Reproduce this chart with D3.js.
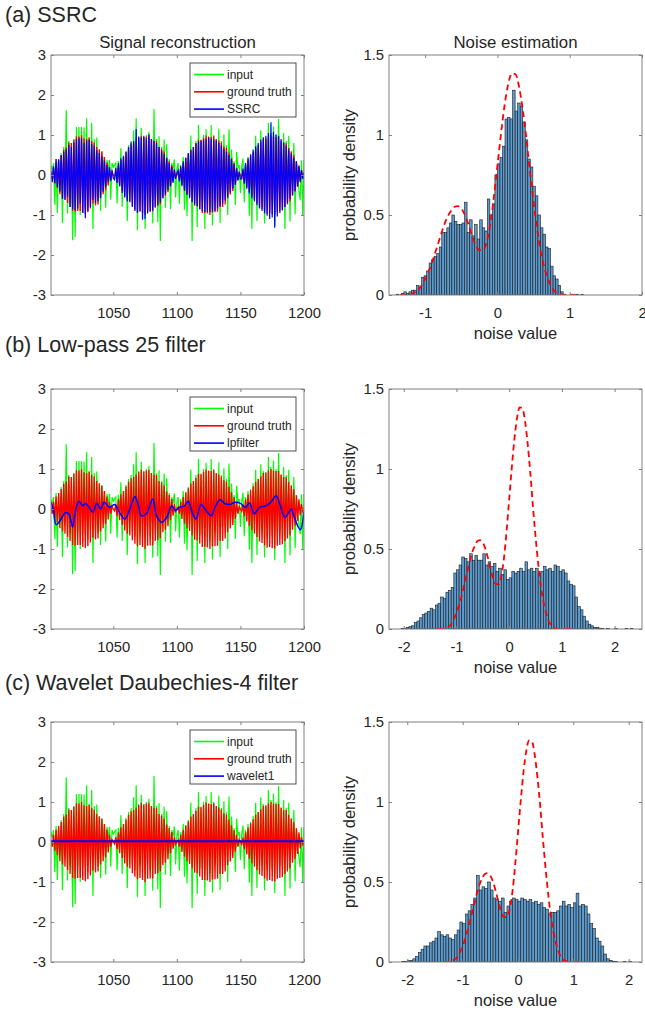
<!DOCTYPE html>
<html>
<head>
<meta charset="utf-8">
<script src="https://cdn.jsdelivr.net/npm/d3@7"></script>
<style>
  body { margin: 0; background: #fff; }
  text { font-family: "Liberation Sans", Arial, Helvetica, sans-serif; fill: #262626; }
</style>
</head>
<body>
<svg id="fig" width="645" height="1015"></svg>
<script>
// ---- dados ----
const firstSample = 1001, lastSample = 1200;

const groundTruth = [
  0.06,-0.12,0.18,-0.22,0.31,-0.33,0.40,-0.48,0.50,-0.56, 0.64,-0.62,0.69,-0.70,0.81,-0.80,0.80,-0.90,0.88,-0.92,
  0.97,-0.90,0.96,-0.90,1.00,-0.95,0.92,-0.98,0.90,-0.93, 0.93,-0.84,0.85,-0.72,0.81,-0.76,0.70,-0.74,0.64,-0.56,
  0.58,-0.48,0.45,-0.38,0.31,-0.26,0.18,-0.12,0.06,0.00,
  -0.05,0.12,-0.18,0.24,-0.28,0.37,-0.40,0.45,-0.54,0.56, -0.62,0.68,-0.66,0.77,-0.78,0.80,-0.87,0.86,-0.93,0.92,
  -0.90,0.98,-0.95,0.94,-1.00,0.96,-0.92,0.98,-0.91,0.90, -0.91,0.86,-0.80,0.85,-0.78,0.70,-0.73,0.66,-0.58,0.59,
  -0.52,0.44,-0.43,0.35,-0.28,0.25,-0.17,0.12,-0.06,0.00,
  0.05,-0.12,0.18,-0.25,0.30,-0.37,0.42,-0.48,0.52,-0.55, 0.64,-0.66,0.70,-0.77,0.78,-0.78,0.88,-0.86,0.88,-0.95,
  0.93,-0.95,0.99,-0.96,0.96,-1.00,0.95,-0.94,0.97,-0.93, 0.90,-0.92,0.86,-0.80,0.81,-0.80,0.72,-0.74,0.69,-0.58,
  0.56,-0.49,0.42,-0.40,0.30,-0.24,0.18,-0.12,0.06,0.00,
  -0.06,0.11,-0.18,0.24,-0.31,0.36,-0.42,0.47,-0.53,0.57, -0.62,0.68,-0.70,0.75,-0.81,0.82,-0.85,0.90,-0.91,0.92,
  -0.97,0.96,-0.95,1.00,-0.98,0.96,-0.99,0.95,-0.92,0.95, -0.90,0.86,-0.88,0.80,-0.80,0.80,-0.74,0.68,-0.66,0.58,
  -0.52,0.50,-0.42,0.34,-0.30,0.24,-0.16,0.12,-0.06,0.00
];

const inputSignal = [
  0.24,0.10,0.30,-0.75,0.40,-0.95,0.35,-0.28,0.55,-1.20, 0.70,-0.30,1.62,-0.96,0.85,-0.60,0.80,-1.63,0.90,-1.55,
  1.20,-0.59,1.20,-1.00,1.20,-0.60,1.19,-0.83,1.42,-0.75, 0.95,-0.49,1.30,-1.35,0.90,-0.56,0.94,-0.60,0.65,-0.90,
  0.60,-0.08,0.45,-0.82,0.38,0.08,0.38,-0.62,0.30,0.20,
  0.25,0.30,-0.71,0.35,-0.07,0.67,-0.80,0.45,-0.34,0.60, -1.15,0.75,-0.28,0.85,-0.58,1.12,-0.70,1.42,-1.38,0.95,
  -0.60,1.18,-0.70,0.95,-1.35,1.00,-0.54,1.08,-0.71,0.90, -1.21,1.65,-0.47,0.90,-1.18,0.97,-1.65,0.70,-0.25,0.89,
  -0.82,0.77,-0.23,0.40,-0.85,0.30,0.13,0.39,-0.56,0.15,
  0.30,-0.72,0.25,-0.05,0.45,-0.87,0.40,-1.03,0.55,-0.32, 0.99,-1.65,0.70,-0.52,0.85,-1.30,1.25,-0.66,0.85,-0.65,
  1.00,-1.35,1.15,-0.71,0.95,-0.80,1.25,-1.26,1.00,-0.58, 0.90,-0.72,1.16,-1.20,0.85,-0.50,1.02,-0.49,0.75,-1.00,
  1.14,-0.19,0.64,-0.20,0.35,-0.75,0.58,0.18,0.25,-0.45,
  0.19,0.41,-0.68,0.30,-0.01,0.45,-1.02,0.50,-1.35,0.65, -0.30,0.98,-1.15,0.75,-0.61,1.12,-0.47,0.95,-1.21,0.90,
  -0.72,1.30,-0.66,1.05,-0.68,1.21,-1.28,1.00,-0.58,1.40, -0.60,0.85,-0.68,1.05,-1.35,0.85,-0.40,0.98,-1.16,0.60,
  -0.24,0.80,-0.98,0.35,-0.10,-0.38,-0.63,0.37,-1.00,0.38
];

const ssrcSignal = [
  0.10,-0.18,0.22,-0.20,0.40,-0.30,0.38,-0.42,0.50,-0.60, 0.58,-0.62,0.64,-0.55,0.75,-0.80,0.70,-0.85,0.82,-0.88,
  0.90,-0.84,0.92,-0.72,0.92,-0.95,0.80,-1.08,0.86,-0.90, 0.88,-0.80,0.78,-0.62,0.74,-0.70,0.62,-0.66,0.55,-0.58,
  0.48,-0.42,0.36,-0.30,0.25,-0.18,0.20,-0.15,0.12,-0.08,
  -0.12,0.18,-0.20,0.30,-0.28,0.42,-0.45,0.48,-0.56,0.58, -0.66,0.70,-0.68,0.82,-0.80,0.85,-0.90,1.15,-0.95,0.96,
  -0.92,0.94,-1.12,0.98,-1.10,0.92,-0.96,1.02,-0.92,0.90, -0.88,0.85,-0.82,0.80,-0.75,0.70,-0.68,0.60,-0.58,0.52,
  -0.48,0.42,-0.38,0.30,-0.28,0.20,-0.20,0.14,-0.10,0.05,
  0.12,-0.16,0.22,-0.28,0.34,-0.40,0.44,-0.50,0.55,-0.58, 0.62,-0.68,0.70,-0.74,0.80,-0.78,0.84,-0.85,0.86,-0.90,
  0.88,-0.92,0.90,-0.92,0.94,-0.93,0.90,-0.92,0.88,-0.90, 0.86,-0.84,0.80,-0.78,0.74,-0.72,0.66,-0.64,0.58,-0.56,
  0.50,-0.44,0.40,-0.34,0.28,-0.24,0.16,-0.14,0.08,-0.10,
  -0.10,0.16,-0.22,0.30,-0.34,0.42,-0.46,0.52,-0.58,0.62, -0.66,0.72,-0.75,0.80,-0.84,0.88,-0.90,0.94,-0.96,0.98,
  -1.02,1.05,-1.10,1.32,-1.06,1.08,-1.32,1.02,-1.04,0.98, -0.95,0.90,-0.88,0.82,-0.80,0.74,-0.70,0.64,-0.60,0.54,
  -0.50,0.44,-0.40,0.34,-0.28,0.22,-0.18,0.12,-0.10,0.06
];

// filtro passa-baixa (curva suave, lida em pontos)
const lpT = [1001,1003,1005,1008,1012,1015,1018,1020,1023,1026,1028,1031,1034,1037,1040,1043,1047,1051,1054,1059,
  1063,1067,1070,1072,1076,1081,1084,1088,1092,1096,1099,1102,1106,1109,1112,1115,1119,1123,1127,1130,
  1134,1138,1142,1146,1150,1154,1157,1161,1165,1170,1174,1178,1181,1185,1190,1192,1197,1200];
const lpV = [0.17,-0.04,-0.39,-0.30,-0.10,-0.12,-0.45,-0.08,0.19,0.08,0.14,0.04,-0.08,0.14,0.00,0.17,0.04,0.11,-0.04,-0.25,
  0.00,0.31,0.06,-0.17,-0.12,0.25,-0.17,-0.33,-0.21,0.08,-0.04,0.04,0.08,0.19,-0.08,-0.25,0.11,-0.04,-0.17,0.04,
  0.23,0.13,0.12,0.17,0.14,0.04,0.15,-0.12,0.04,0.08,0.17,0.33,0.12,-0.21,0.00,-0.17,-0.52,-0.08];

// wavelet: praticamente constante
const wlT = [1001, 1050, 1100, 1150, 1200];
const wlV = [0.02, 0.02, 0.02, 0.02, 0.02];

// densidade verdadeira do ruído (linha tracejada)
const pdfX = [-1.35,-1.25,-1.2,-1.15,-1.1,-1.05,-1.0,-0.95,-0.9,-0.85,-0.8,-0.75,-0.7,-0.65,-0.6,-0.55,-0.5,-0.45,-0.4,-0.35,
  -0.3,-0.25,-0.2,-0.15,-0.1,-0.05,0,0.05,0.1,0.15,0.2,0.25,0.3,0.35,0.4,0.45,0.5,0.55,0.6,0.65,0.7,0.75,0.8,0.85,0.9,1.0,1.15];
const pdfY = [0,0.002,0.005,0.015,0.03,0.06,0.1,0.15,0.21,0.28,0.35,0.42,0.48,0.52,0.55,0.555,0.54,0.5,0.44,0.37,
  0.31,0.28,0.28,0.33,0.44,0.61,0.81,1.01,1.19,1.32,1.385,1.38,1.3,1.16,0.98,0.77,0.58,0.41,0.27,0.17,0.1,0.05,0.02,0.008,0.003,0,0];

// histogramas: início do primeiro bin, largura e alturas
const histAStart = -1.40, histAWidth = 0.035;
const histA = [0.005,0,0.01,0.02,0.01,0.02,0.03,0.03,0.06,0.05,
  0.11,0.12,0.15,0.2,0.22,0.24,0.26,0.3,0.39,0.39,
  0.42,0.45,0.5,0.46,0.44,0.44,0.45,0.58,0.39,0.47,
  0.37,0.44,0.35,0.47,0.42,0.4,0.6,0.5,0.57,0.75,
  0.82,0.86,0.93,1.1,1.11,1.1,1.28,1.15,1.2,1.18,
  1.08,0.97,0.85,0.8,0.68,0.62,0.5,0.42,0.38,0.3,
  0.29,0.18,0.12,0.1,0.06,0.02,
  0.005,0,0,0.005,0,0.005,0,0.003];

const histBStart = -2.05, histBWidth = 0.05;
const histB = [0.003,0.005,0.01,0.015,0.02,0.04,0.05,0.07,0.09,0.1,
  0.11,0.13,0.12,0.15,0.16,0.2,0.19,0.23,0.24,0.26,
  0.35,0.37,0.4,0.45,0.44,0.42,0.47,0.43,0.46,0.43,
  0.43,0.47,0.4,0.42,0.39,0.41,0.36,0.38,0.34,0.37,
  0.31,0.32,0.36,0.35,0.36,0.38,0.36,0.42,0.37,0.38,
  0.36,0.38,0.35,0.36,0.39,0.37,0.38,0.36,0.4,0.39,
  0.36,0.37,0.35,0.3,0.28,0.27,0.2,0.14,0.12,0.08,
  0.05,0.03,0.02,0.01,0.01,0.005,
  0.003,0,0.003,0,0,0.003,0,0,0,0.003,0,0.003];

const histCStart = -2.1, histCWidth = 0.05;
const histC = [0.003,0.003,0.008,0.01,0.02,0.035,0.06,0.08,0.1,0.1,
  0.12,0.13,0.15,0.19,0.17,0.16,0.17,0.15,0.14,0.17,
  0.2,0.25,0.24,0.3,0.32,0.36,0.4,0.54,0.45,0.47,
  0.46,0.5,0.45,0.4,0.39,0.38,0.4,0.31,0.35,0.38,
  0.4,0.39,0.38,0.4,0.39,0.38,0.39,0.37,0.38,0.36,
  0.37,0.34,0.33,0.3,0.31,0.31,0.32,0.35,0.38,0.35,
  0.36,0.34,0.37,0.43,0.35,0.36,0.35,0.3,0.24,0.21,
  0.15,0.13,0.1,0.05,0.02,0.01,0.005,0.003,
  0,0,0.003,0,0.003,0];

const signalXTicks = [1050, 1100, 1150, 1200];
const signalYTicks = [-3, -2, -1, 0, 1, 2, 3];
const histYTicks = [0, 0.5, 1, 1.5];

// ---- desenho ----
const svg = d3.select("#fig");
const W = 253, H = 240;
const leftX = 51, rightX = 389;
const fmt = d => String(d);

function txt(parent, x, y, s, size, anchor) {
  return parent.append("text")
    .attr("x", x).attr("y", y)
    .attr("font-size", size)
    .attr("text-anchor", anchor || "start")
    .text(s);
}

function moldura(g, x, y, xTicks, yTicks) {
  g.append("g").attr("transform", `translate(0,${H})`)
    .call(d3.axisBottom(x).tickValues(xTicks).tickSizeInner(-3).tickSizeOuter(0).tickPadding(12).tickFormat(fmt));
  g.append("g")
    .call(d3.axisTop(x).tickValues(xTicks).tickSizeInner(-3).tickSizeOuter(0).tickFormat(""));
  g.append("g")
    .call(d3.axisLeft(y).tickValues(yTicks).tickSizeInner(-3).tickSizeOuter(0).tickPadding(5).tickFormat(fmt));
  g.append("g").attr("transform", `translate(${W},0)`)
    .call(d3.axisRight(y).tickValues(yTicks).tickSizeInner(-3).tickSizeOuter(0).tickFormat(""));
  g.selectAll(".domain").remove();
  g.selectAll(".tick line").attr("stroke", "#808080");
  g.selectAll(".tick text").attr("font-size", 14.8).attr("fill", "#262626")
    .attr("font-family", '"Liberation Sans", Arial, sans-serif');
  g.append("rect").attr("width", W).attr("height", H)
    .attr("fill", "none").attr("stroke", "#808080").attr("stroke-width", 1);
}

function painelSinal(top, id, estT, estV, estName, estWidth, curvo) {
  const g = svg.append("g").attr("transform", `translate(${leftX},${top})`);
  const x = d3.scaleLinear().domain([firstSample, lastSample]).range([0, W]);
  const y = d3.scaleLinear().domain([-3, 3]).range([H, 0]);

  g.append("clipPath").attr("id", "clip" + id)
    .append("rect").attr("width", W).attr("height", H);
  const plot = g.append("g").attr("clip-path", `url(#clip${id})`);

  const samples = d3.range(firstSample, lastSample + 1);
  const line = d3.line().x(d => x(d[0])).y(d => y(d[1]));

  plot.append("path").datum(d3.zip(samples, inputSignal)).attr("d", line)
    .attr("fill", "none").attr("stroke", "#00ff00").attr("stroke-width", 1.2);
  plot.append("path").datum(d3.zip(samples, groundTruth)).attr("d", line)
    .attr("fill", "none").attr("stroke", "#ff0000").attr("stroke-width", 1.35);

  const estLine = d3.line().x(d => x(d[0])).y(d => y(d[1]));
  if (curvo) estLine.curve(d3.curveCatmullRom);
  plot.append("path").datum(d3.zip(estT, estV)).attr("d", estLine)
    .attr("fill", "none").attr("stroke", "#0000ff").attr("stroke-width", estWidth);

  moldura(g, x, y, signalXTicks, signalYTicks);

  // legenda
  const lg = g.append("g").attr("transform", "translate(139,8)");
  lg.append("rect").attr("width", 106).attr("height", 54)
    .attr("fill", "#fff").attr("stroke", "#262626").attr("stroke-width", 0.8);
  const itens = [["input", "#00ff00"], ["ground truth", "#ff0000"], [estName, "#0000ff"]];
  itens.forEach((it, i) => {
    const yy = 11.5 + i * 17.3;
    lg.append("line").attr("x1", 4).attr("x2", 34).attr("y1", yy).attr("y2", yy)
      .attr("stroke", it[1]).attr("stroke-width", 1.6);
    txt(lg, 37, yy, it[0], 12).attr("dy", "0.35em");
  });
  return g;
}

function painelHist(top, id, domain, xTicks, start, width, heights) {
  const g = svg.append("g").attr("transform", `translate(${rightX},${top})`);
  const x = d3.scaleLinear().domain(domain).range([0, W]);
  const y = d3.scaleLinear().domain([0, 1.5]).range([H, 0]);

  g.append("clipPath").attr("id", "hclip" + id)
    .append("rect").attr("width", W).attr("height", H);
  const plot = g.append("g").attr("clip-path", `url(#hclip${id})`);

  const bins = heights.map((h, i) => ({ x0: start + i * width, x1: start + (i + 1) * width, h: h }))
    .filter(b => b.h > 0);
  plot.selectAll("rect.bar").data(bins).join("rect").attr("class", "bar")
    .attr("x", b => x(b.x0)).attr("width", b => x(b.x1) - x(b.x0))
    .attr("y", b => y(b.h)).attr("height", b => y(0) - y(b.h))
    .attr("fill", "#5b9bd0").attr("stroke", "#1b1b1b").attr("stroke-width", 0.6);

  const pdfLine = d3.line().x(d => x(d[0])).y(d => y(d[1])).curve(d3.curveMonotoneX);
  plot.append("path").datum(d3.zip(pdfX, pdfY)).attr("d", pdfLine)
    .attr("fill", "none").attr("stroke", "#ff0000").attr("stroke-width", 1.8)
    .attr("stroke-dasharray", "6,4");

  moldura(g, x, y, xTicks, histYTicks);

  txt(g, W / 2, H + 44, "noise value", 16.5, "middle");
  g.append("text").attr("transform", `translate(-34,${H / 2}) rotate(-90)`)
    .attr("font-size", 16.5).attr("text-anchor", "middle").text("probability density");
  return g;
}

// linha (a)
txt(svg, 5, 22, "(a) SSRC", 21.5);
const sa = painelSinal(55, "a", d3.range(firstSample, lastSample + 1), ssrcSignal, "SSRC", 1.2, false);
txt(sa, W / 2, -7, "Signal reconstruction", 16.8, "middle");
const ha = painelHist(55, "a", [-1.5, 2], [-1, 0, 1, 2], histAStart, histAWidth, histA);
txt(ha, W / 2, -7, "Noise estimation", 16.8, "middle");

// linha (b)
txt(svg, 5, 352, "(b) Low-pass 25 filter", 21.5);
painelSinal(389, "b", lpT, lpV, "lpfilter", 1.6, true);
painelHist(389, "b", [-2.28, 2.52], [-2, -1, 0, 1, 2], histBStart, histBWidth, histB);

// linha (c)
txt(svg, 5, 690, "(c) Wavelet Daubechies-4 filter", 21.5);
painelSinal(722, "c", wlT, wlV, "wavelet1", 2, false);
painelHist(722, "c", [-2.33, 2.24], [-2, -1, 0, 1, 2], histCStart, histCWidth, histC);
</script>
</body>
</html>
